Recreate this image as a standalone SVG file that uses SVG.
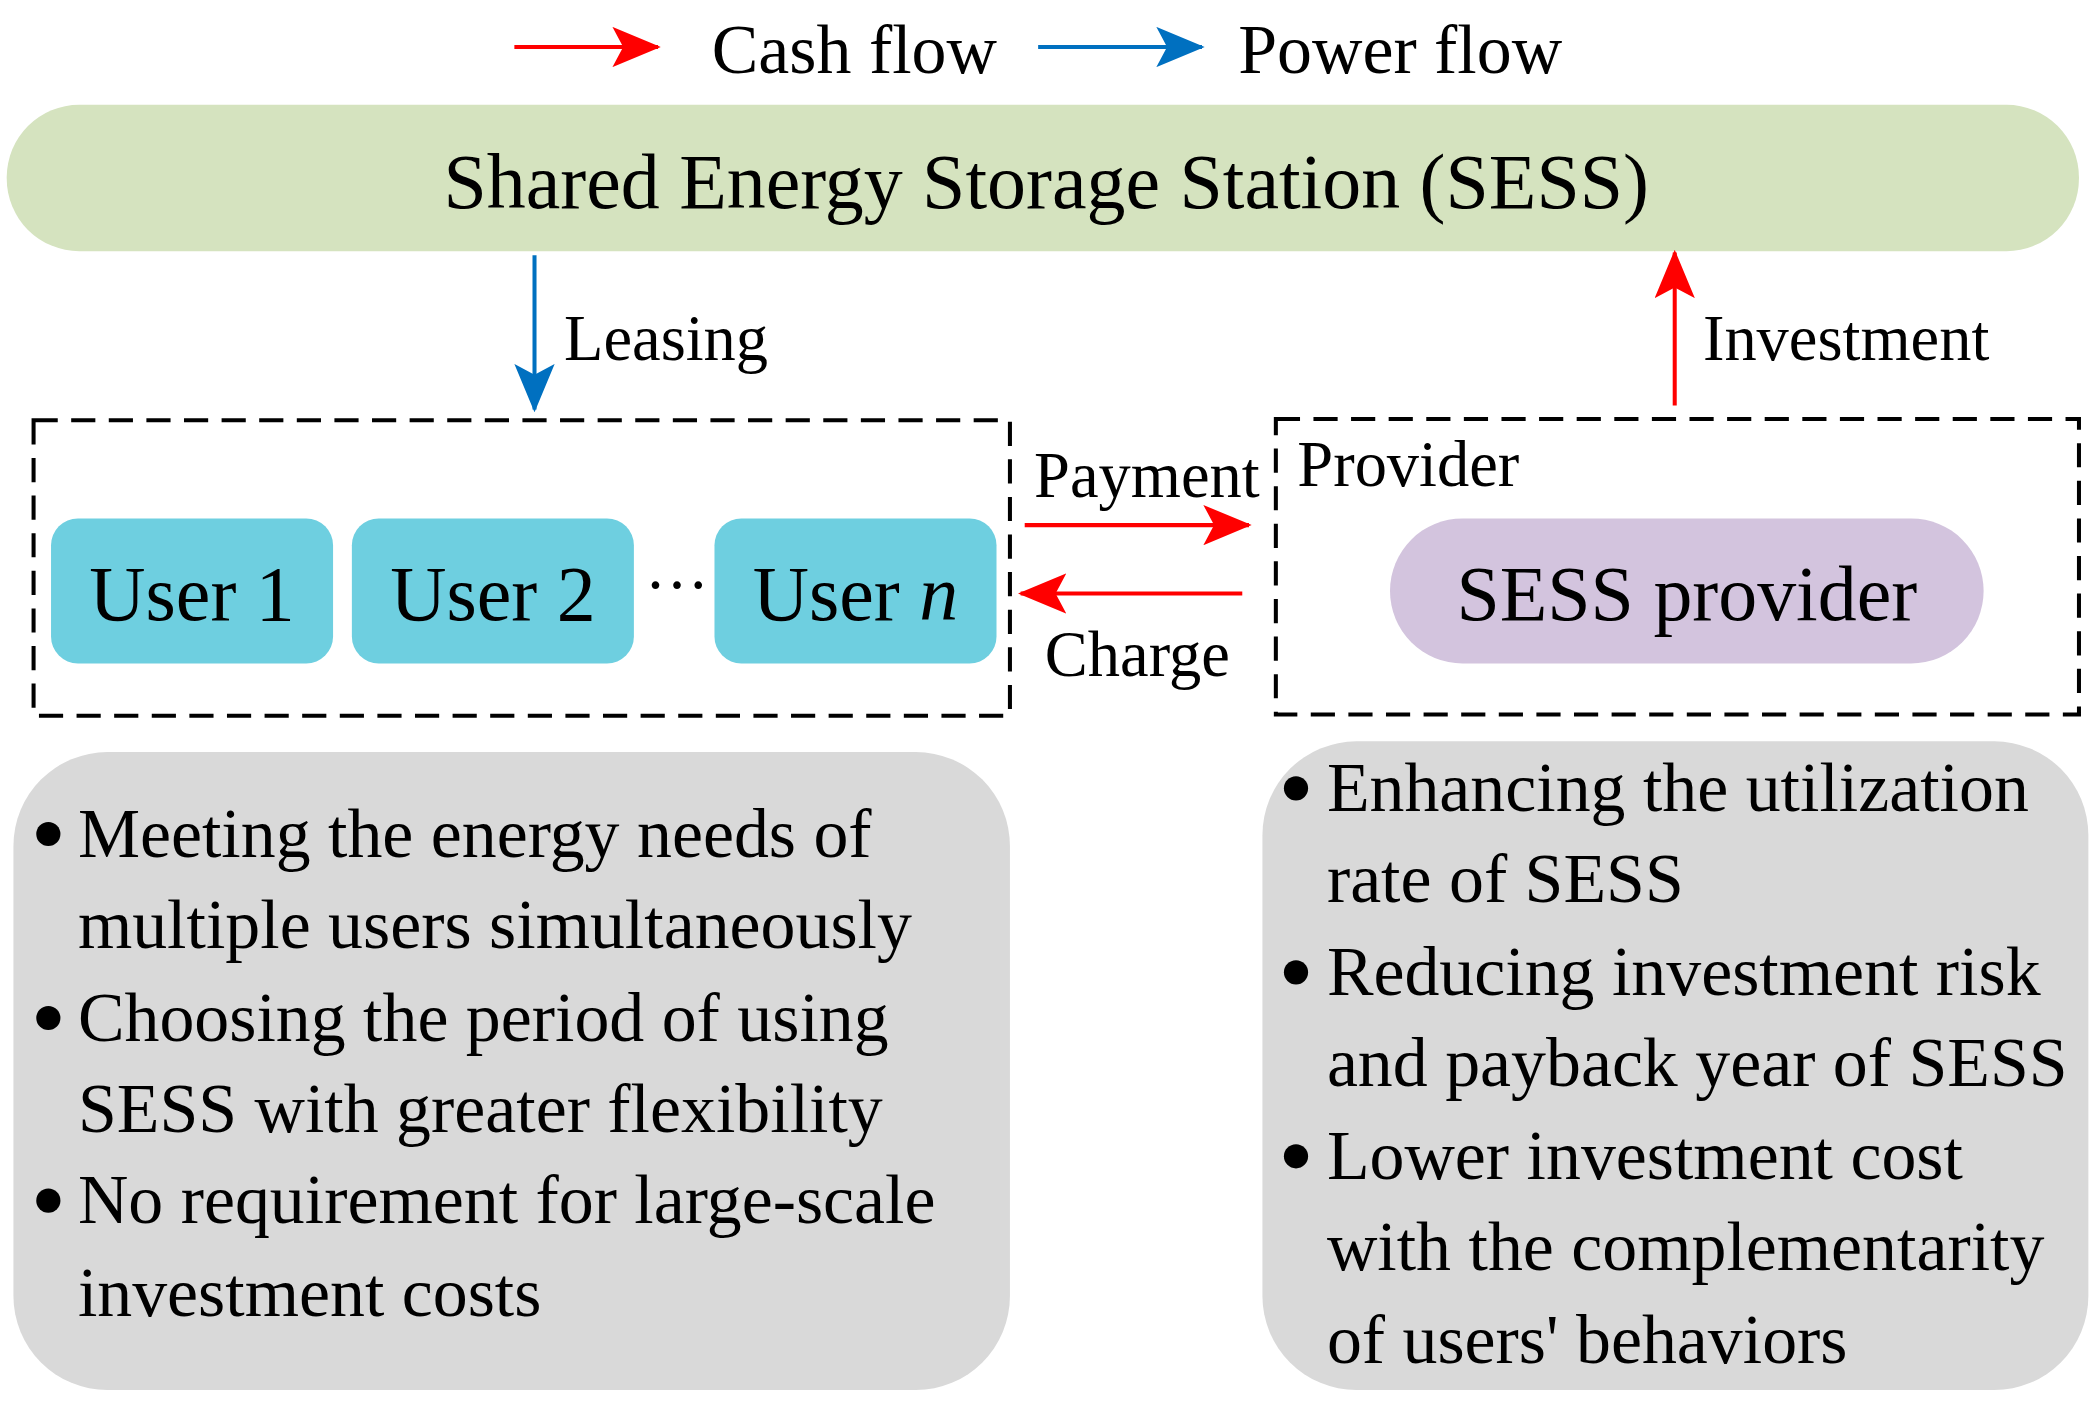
<svg xmlns="http://www.w3.org/2000/svg" width="2095" height="1402" viewBox="0 0 2095 1402">
<defs>
<marker id="ar" markerWidth="36" markerHeight="30" refX="34" refY="15" orient="auto" markerUnits="userSpaceOnUse" viewBox="0 0 36 30"><path d="M0,0 L36,15 L0,30 L8,15 Z" fill="#ff0000"/></marker>
<marker id="ab" markerWidth="36" markerHeight="30" refX="34" refY="15" orient="auto" markerUnits="userSpaceOnUse" viewBox="0 0 36 30"><path d="M0,0 L36,15 L0,30 L8,15 Z" fill="#0070c0"/></marker>
<style>
text{font-family:"Liberation Serif","Times New Roman",serif;fill:#000}
.t{font-size:48px}
.b{font-size:52px}
.red{stroke:#ff0000;stroke-width:3;fill:none}
.blue{stroke:#0070c0;stroke-width:3;fill:none}
.dash{fill:none;stroke:#000;stroke-width:3;stroke-dasharray:18 10}
.user{fill:#6ecfe0}
</style>
</defs>
<rect width="2095" height="1402" fill="#fff"/>
<g transform="scale(1.343)">
<g id="legend">
<line x1="383" y1="35" x2="490" y2="35" class="red" marker-end="url(#ar)"/>
<text x="530" y="54" style="font-size:52px">Cash flow</text>
<line x1="773" y1="35" x2="895" y2="35" class="blue" marker-end="url(#ab)"/>
<text x="922" y="54" style="font-size:52px">Power flow</text>
</g>
<g id="sess">
<rect x="5" y="78" width="1543" height="109" rx="54" fill="#d5e3bf"/>
<text x="779" y="155" text-anchor="middle" style="font-size:58px">Shared Energy Storage Station (SESS)</text>
</g>
<g id="connectors">
<line x1="398" y1="190" x2="398" y2="305" class="blue" marker-end="url(#ab)"/>
<line x1="1247" y1="302" x2="1247" y2="188" class="red" marker-end="url(#ar)"/>
<line x1="763" y1="391" x2="930" y2="391" class="red" marker-end="url(#ar)"/>
<line x1="925" y1="442" x2="760" y2="442" class="red" marker-end="url(#ar)"/>
<text x="420" y="268" class="t">Leasing</text>
<text x="1268" y="268" class="t">Investment</text>
<text x="770" y="370" class="t">Payment</text>
<text x="778" y="503" class="t">Charge</text>
</g>
<g id="users">
<rect x="25" y="313" width="727" height="220" class="dash"/>
<rect x="38" y="386" width="210" height="108" rx="20" class="user"/>
<text x="143" y="462" text-anchor="middle" style="font-size:58px">User 1</text>
<rect x="262" y="386" width="210" height="108" rx="20" class="user"/>
<text x="367" y="462" text-anchor="middle" style="font-size:58px">User 2</text>
<text x="504" y="452" text-anchor="middle" style="font-size:48px">···</text>
<rect x="532" y="386" width="210" height="108" rx="20" class="user"/>
<text x="637" y="462" text-anchor="middle" style="font-size:58px">User <tspan font-style="italic">n</tspan></text>
</g>
<g id="provider">
<rect x="950" y="312" width="598" height="220" class="dash"/>
<text x="966" y="362" class="t">Provider</text>
<rect x="1035" y="386" width="442" height="108" rx="54" fill="#d3c4de"/>
<text x="1256" y="462" text-anchor="middle" style="font-size:58px">SESS provider</text>
</g>
<g id="left-benefits">
<rect x="10" y="560" width="742" height="475" rx="70" fill="#d9d9d9"/>
<circle cx="36" cy="621" r="9"/><text x="58" y="638" class="b">Meeting the energy needs of</text>
<text x="58" y="706" class="b">multiple users simultaneously</text>
<circle cx="36" cy="758" r="9"/><text x="58" y="775" class="b">Choosing the period of using</text>
<text x="58" y="843" class="b">SESS with greater flexibility</text>
<circle cx="36" cy="894" r="9"/><text x="58" y="911" class="b">No requirement for large-scale</text>
<text x="58" y="980" class="b">investment costs</text>
</g>
<g id="right-benefits">
<rect x="940" y="552" width="615" height="483" rx="70" fill="#d9d9d9"/>
<circle cx="965" cy="587" r="9"/><text x="988" y="604" class="b">Enhancing the utilization</text>
<text x="988" y="672" class="b">rate of SESS</text>
<circle cx="965" cy="724" r="9"/><text x="988" y="741" class="b">Reducing investment risk</text>
<text x="988" y="809" class="b">and payback year of SESS</text>
<circle cx="965" cy="861" r="9"/><text x="988" y="878" class="b">Lower investment cost</text>
<text x="988" y="946" class="b">with the complementarity</text>
<text x="988" y="1015" class="b">of users' behaviors</text>
</g>
</g>
</svg>
